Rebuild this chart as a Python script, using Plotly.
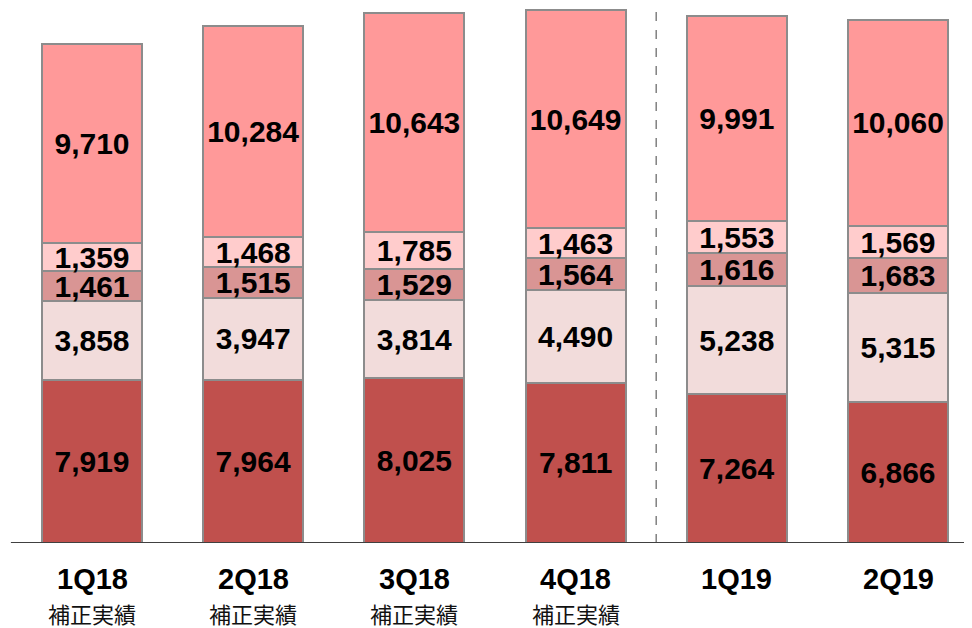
import plotly.graph_objects as go

quarters = ["1Q18", "2Q18", "3Q18", "4Q18", "1Q19", "2Q19"]
sublabels = ["補正実績", "補正実績", "補正実績", "補正実績", "", ""]

seg1 = [7919, 7964, 8025, 7811, 7264, 6866]
seg2 = [3858, 3947, 3814, 4490, 5238, 5315]
seg3 = [1461, 1515, 1529, 1564, 1616, 1683]
seg4 = [1359, 1468, 1785, 1463, 1553, 1569]
seg5 = [9710, 10284, 10643, 10649, 9991, 10060]

series = [
    (seg1, "#C0504D"),
    (seg2, "#F2DCDB"),
    (seg3, "#D99594"),
    (seg4, "#FFCCCC"),
    (seg5, "#FF9999"),
]

xs = list(range(len(quarters)))

fig = go.Figure()
for vals, color in series:
    fig.add_trace(go.Bar(
        x=xs, y=vals,
        marker=dict(color=color, line=dict(color="#8C8C8C", width=2)),
        width=0.62,
        text=[f"{v:,}" for v in vals],
        textposition="inside",
        insidetextanchor="middle",
        textangle=0,
        constraintext="none",
        textfont=dict(family="Liberation Sans, Arial", size=30, color="black", weight="bold"),
        showlegend=False,
    ))

# vertical dashed separator between 4Q18 and 1Q19
fig.add_shape(type="line", xref="x", yref="paper", x0=3.5, x1=3.5, y0=0, y1=1.02,
              line=dict(color="#808080", width=1.5, dash="dash"))

for i, q in enumerate(quarters):
    fig.add_annotation(x=i, y=-0.0673, xref="x", yref="paper", text=f"<b>{q}</b>",
                       showarrow=False, yanchor="middle",
                       font=dict(family="Liberation Sans, Arial", size=29, color="black"))
    if sublabels[i]:
        fig.add_annotation(x=i, y=-0.131, xref="x", yref="paper", text=sublabels[i],
                           showarrow=False, yanchor="middle",
                           font=dict(family="Noto Sans CJK JP", size=22, color="#111111"))

fig.update_layout(
    barmode="stack",
    width=964, height=620,
    margin=dict(l=0, r=0, t=0, b=85),
    plot_bgcolor="white", paper_bgcolor="white",
    uniformtext=dict(mode=False),
)
fig.update_xaxes(range=[-0.5211, 5.459], showticklabels=False, showgrid=False,
                 zeroline=False, showline=False)
fig.update_yaxes(range=[0, 26060], visible=False, showgrid=False, zeroline=False)

# baseline
fig.add_shape(type="line", xref="paper", yref="y", x0=0.003, x1=1, y0=0, y1=0,
              line=dict(color="#404040", width=2))

fig.write_html("out.html")
